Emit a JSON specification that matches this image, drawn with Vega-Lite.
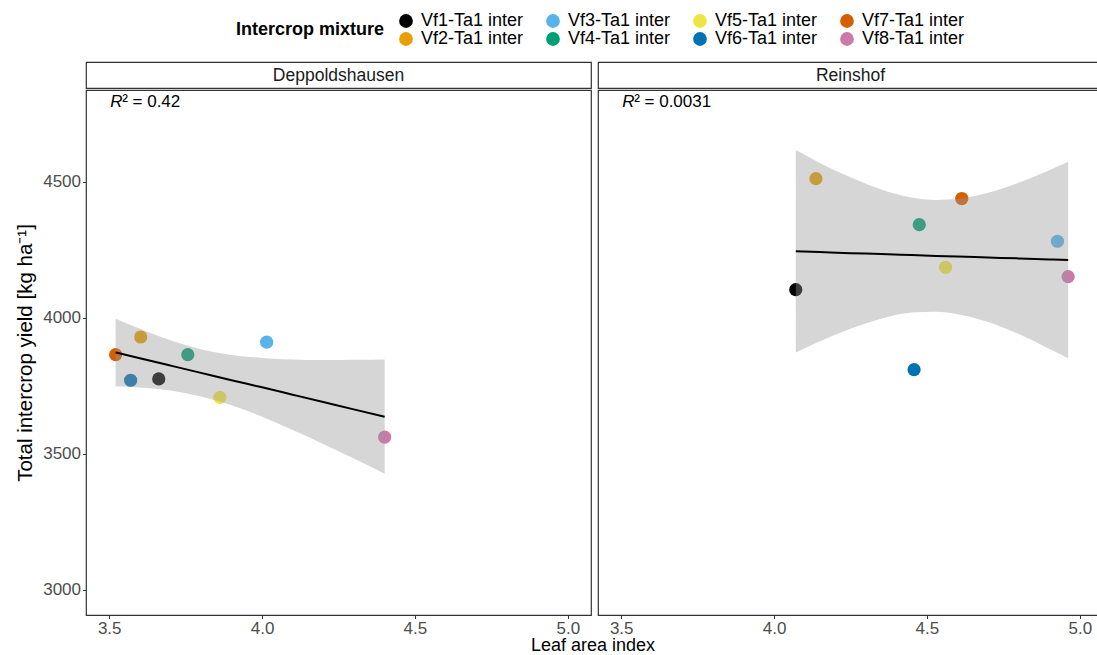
{
  "$schema": "https://vega.github.io/schema/vega-lite/v6.json",
  "padding": {"left": 15, "top": 12, "right": 0, "bottom": 0},
  "spacing": 5,
  "title": {"text": "Leaf area index", "orient": "bottom", "anchor": "middle", "frame": "group", "fontSize": 18, "fontWeight": "normal", "color": "#000000", "font": "Liberation Sans", "offset": 0, "dx": 507},
  "config": {
    "font": "Liberation Sans",
    "view": {"stroke": "#333333", "strokeWidth": 1.2},
    "axis": {"grid": false, "domain": false, "labelFont": "Liberation Sans", "labelFontSize": 17, "labelColor": "#4D4D4D", "tickColor": "#333333", "tickSize": 3.5, "labelPadding": 2, "titleFont": "Liberation Sans", "titleFontSize": 18, "titleFontWeight": "normal", "titleColor": "#000000"},
    "axisX": {"labelPadding": 2}
  },
  "datasets": {
    "points": [
      {"site": "Deppoldshausen", "mixture": "Vf1-Ta1 inter", "lai": 3.662, "yield": 3776},
      {"site": "Deppoldshausen", "mixture": "Vf2-Ta1 inter", "lai": 3.603, "yield": 3930},
      {"site": "Deppoldshausen", "mixture": "Vf3-Ta1 inter", "lai": 4.015, "yield": 3911},
      {"site": "Deppoldshausen", "mixture": "Vf4-Ta1 inter", "lai": 3.757, "yield": 3865},
      {"site": "Deppoldshausen", "mixture": "Vf5-Ta1 inter", "lai": 3.862, "yield": 3708},
      {"site": "Deppoldshausen", "mixture": "Vf6-Ta1 inter", "lai": 3.570, "yield": 3771},
      {"site": "Deppoldshausen", "mixture": "Vf7-Ta1 inter", "lai": 3.521, "yield": 3865},
      {"site": "Deppoldshausen", "mixture": "Vf8-Ta1 inter", "lai": 4.401, "yield": 3562},
      {"site": "Reinshof", "mixture": "Vf1-Ta1 inter", "lai": 4.071, "yield": 4104},
      {"site": "Reinshof", "mixture": "Vf2-Ta1 inter", "lai": 4.137, "yield": 4512},
      {"site": "Reinshof", "mixture": "Vf3-Ta1 inter", "lai": 4.927, "yield": 4282},
      {"site": "Reinshof", "mixture": "Vf4-Ta1 inter", "lai": 4.475, "yield": 4343},
      {"site": "Reinshof", "mixture": "Vf5-Ta1 inter", "lai": 4.561, "yield": 4186},
      {"site": "Reinshof", "mixture": "Vf6-Ta1 inter", "lai": 4.458, "yield": 3810},
      {"site": "Reinshof", "mixture": "Vf7-Ta1 inter", "lai": 4.614, "yield": 4439},
      {"site": "Reinshof", "mixture": "Vf8-Ta1 inter", "lai": 4.962, "yield": 4152}
    ],
    "band": [
      {"site": "Deppoldshausen", "lai": 3.521, "hi": 3997, "lo": 3749, "fit": 3873},
      {"site": "Deppoldshausen", "lai": 3.60, "hi": 3960, "lo": 3744, "fit": 3852},
      {"site": "Deppoldshausen", "lai": 3.70, "hi": 3918, "lo": 3733, "fit": 3825},
      {"site": "Deppoldshausen", "lai": 3.80, "hi": 3885, "lo": 3711, "fit": 3798},
      {"site": "Deppoldshausen", "lai": 3.90, "hi": 3864, "lo": 3679, "fit": 3771},
      {"site": "Deppoldshausen", "lai": 4.00, "hi": 3853, "lo": 3637, "fit": 3745},
      {"site": "Deppoldshausen", "lai": 4.10, "hi": 3847, "lo": 3588, "fit": 3718},
      {"site": "Deppoldshausen", "lai": 4.20, "hi": 3845, "lo": 3537, "fit": 3691},
      {"site": "Deppoldshausen", "lai": 4.30, "hi": 3846, "lo": 3483, "fit": 3664},
      {"site": "Deppoldshausen", "lai": 4.401, "hi": 3847, "lo": 3427, "fit": 3637},
      {"site": "Reinshof", "lai": 4.071, "hi": 4617, "lo": 3873, "fit": 4245},
      {"site": "Reinshof", "lai": 4.15, "hi": 4570, "lo": 3914, "fit": 4242},
      {"site": "Reinshof", "lai": 4.25, "hi": 4517, "lo": 3960, "fit": 4238},
      {"site": "Reinshof", "lai": 4.35, "hi": 4472, "lo": 3997, "fit": 4235},
      {"site": "Reinshof", "lai": 4.45, "hi": 4443, "lo": 4020, "fit": 4231},
      {"site": "Reinshof", "lai": 4.53, "hi": 4434, "lo": 4023, "fit": 4228},
      {"site": "Reinshof", "lai": 4.60, "hi": 4437, "lo": 4014, "fit": 4226},
      {"site": "Reinshof", "lai": 4.70, "hi": 4460, "lo": 3985, "fit": 4222},
      {"site": "Reinshof", "lai": 4.80, "hi": 4497, "lo": 3941, "fit": 4219},
      {"site": "Reinshof", "lai": 4.90, "hi": 4543, "lo": 3887, "fit": 4215},
      {"site": "Reinshof", "lai": 4.962, "hi": 4574, "lo": 3852, "fit": 4213}
    ],
    "r2": [
      {"site": "Deppoldshausen", "lai": 3.503, "yield": 4793, "r": "R", "rest": "² = 0.42"},
      {"site": "Reinshof", "lai": 3.503, "yield": 4793, "r": "R", "rest": "² = 0.0031"}
    ],
    "strips": [
      {"site": "Deppoldshausen"},
      {"site": "Reinshof"}
    ]
  },
  "hconcat": [
    {
      "spacing": 0,
      "vconcat": [
        {
          "width": 505, "height": 26,
          "view": {"stroke": "#333333", "strokeWidth": 1.2, "fill": "#FFFFFF"},
          "data": {"name": "strips"},
          "transform": [{"filter": "datum.site === 'Deppoldshausen'"}],
          "mark": {"type": "text", "fontSize": 17.5, "color": "#1A1A1A", "baseline": "middle", "align": "center", "dy": 1},
          "encoding": {"text": {"field": "site", "type": "nominal"}}
        },
        {
          "width": 505, "height": 525,
          "layer": [
            {
              "data": {"name": "points"},
              "transform": [{"filter": "datum.site === 'Deppoldshausen'"}],
              "mark": {"type": "circle", "size": 175, "opacity": 1},
              "encoding": {
                "x": {"field": "lai", "type": "quantitative", "scale": {"domain": [3.424, 5.076], "nice": false, "zero": false}, "axis": {"values": [3.5, 4, 4.5, 5], "format": ".1f", "title": null}},
                "y": {"field": "yield", "type": "quantitative", "scale": {"domain": [2908, 4838], "nice": false, "zero": false}, "axis": {"values": [3000, 3500, 4000, 4500], "format": "d", "title": "Total intercrop yield [kg ha⁻¹]", "titleFontSize": 20.5, "titlePadding": 7}},
                "color": {"field": "mixture", "type": "nominal", "title": "Intercrop mixture",
                  "scale": {"domain": ["Vf1-Ta1 inter", "Vf3-Ta1 inter", "Vf5-Ta1 inter", "Vf7-Ta1 inter", "Vf2-Ta1 inter", "Vf4-Ta1 inter", "Vf6-Ta1 inter", "Vf8-Ta1 inter"],
                            "range": ["#000000", "#56B4E9", "#F0E442", "#D55E00", "#E69F00", "#009E73", "#0072B2", "#CC79A7"]},
                  "legend": {"orient": "none", "legendX": 150, "legendY": -50, "direction": "horizontal", "columns": 4, "titleOrient": "left", "titleAnchor": "middle", "titleFontWeight": "bold", "titleFontSize": 18, "titleColor": "#000000", "labelFontSize": 18, "labelColor": "#000000", "symbolType": "circle", "symbolSize": 190, "symbolStrokeWidth": 0, "symbolOpacity": 1, "columnPadding": 20, "rowPadding": 0, "labelOffset": 6, "titlePadding": 12}}
              }
            },
            {
              "data": {"name": "band"},
              "transform": [{"filter": "datum.site === 'Deppoldshausen'"}],
              "mark": {"type": "area", "color": "#999999", "opacity": 0.4, "interpolate": "monotone"},
              "encoding": {
                "x": {"field": "lai", "type": "quantitative"},
                "y": {"field": "hi", "type": "quantitative"},
                "y2": {"field": "lo"}
              }
            },
            {
              "data": {"name": "band"},
              "transform": [{"filter": "datum.site === 'Deppoldshausen'"}],
              "mark": {"type": "line", "color": "#000000", "strokeWidth": 2, "interpolate": "monotone"},
              "encoding": {
                "x": {"field": "lai", "type": "quantitative"},
                "y": {"field": "fit", "type": "quantitative"}
              }
            },
            {
              "data": {"name": "r2"},
              "transform": [{"filter": "datum.site === 'Deppoldshausen'"}],
              "mark": {"type": "text", "align": "left", "baseline": "middle", "fontSize": 17, "fontStyle": "italic", "color": "#000000"},
              "encoding": {
                "x": {"field": "lai", "type": "quantitative"},
                "y": {"field": "yield", "type": "quantitative"},
                "text": {"field": "r"}
              }
            },
            {
              "data": {"name": "r2"},
              "transform": [{"filter": "datum.site === 'Deppoldshausen'"}],
              "mark": {"type": "text", "align": "left", "baseline": "middle", "fontSize": 17, "dx": 12, "color": "#000000"},
              "encoding": {
                "x": {"field": "lai", "type": "quantitative"},
                "y": {"field": "yield", "type": "quantitative"},
                "text": {"field": "rest"}
              }
            }
          ]
        }
      ]
    },
    {
      "spacing": 0,
      "vconcat": [
        {
          "width": 505, "height": 26,
          "view": {"stroke": "#333333", "strokeWidth": 1.2, "fill": "#FFFFFF"},
          "data": {"name": "strips"},
          "transform": [{"filter": "datum.site === 'Reinshof'"}],
          "mark": {"type": "text", "fontSize": 17.5, "color": "#1A1A1A", "baseline": "middle", "align": "center", "dy": 1},
          "encoding": {"text": {"field": "site", "type": "nominal"}}
        },
        {
          "width": 505, "height": 525,
          "layer": [
            {
              "data": {"name": "points"},
              "transform": [{"filter": "datum.site === 'Reinshof'"}],
              "mark": {"type": "circle", "size": 175, "opacity": 1},
              "encoding": {
                "x": {"field": "lai", "type": "quantitative", "scale": {"domain": [3.424, 5.076], "nice": false, "zero": false}, "axis": {"values": [3.5, 4, 4.5, 5], "format": ".1f", "title": null}},
                "y": {"field": "yield", "type": "quantitative", "scale": {"domain": [2908, 4838], "nice": false, "zero": false}, "axis": null},
                "color": {"field": "mixture", "type": "nominal", "title": "Intercrop mixture",
                  "scale": {"domain": ["Vf1-Ta1 inter", "Vf3-Ta1 inter", "Vf5-Ta1 inter", "Vf7-Ta1 inter", "Vf2-Ta1 inter", "Vf4-Ta1 inter", "Vf6-Ta1 inter", "Vf8-Ta1 inter"],
                            "range": ["#000000", "#56B4E9", "#F0E442", "#D55E00", "#E69F00", "#009E73", "#0072B2", "#CC79A7"]}}
              }
            },
            {
              "data": {"name": "band"},
              "transform": [{"filter": "datum.site === 'Reinshof'"}],
              "mark": {"type": "area", "color": "#999999", "opacity": 0.4, "interpolate": "monotone"},
              "encoding": {
                "x": {"field": "lai", "type": "quantitative"},
                "y": {"field": "hi", "type": "quantitative"},
                "y2": {"field": "lo"}
              }
            },
            {
              "data": {"name": "band"},
              "transform": [{"filter": "datum.site === 'Reinshof'"}],
              "mark": {"type": "line", "color": "#000000", "strokeWidth": 2, "interpolate": "monotone"},
              "encoding": {
                "x": {"field": "lai", "type": "quantitative"},
                "y": {"field": "fit", "type": "quantitative"}
              }
            },
            {
              "data": {"name": "r2"},
              "transform": [{"filter": "datum.site === 'Reinshof'"}],
              "mark": {"type": "text", "align": "left", "baseline": "middle", "fontSize": 17, "fontStyle": "italic", "color": "#000000"},
              "encoding": {
                "x": {"field": "lai", "type": "quantitative"},
                "y": {"field": "yield", "type": "quantitative"},
                "text": {"field": "r"}
              }
            },
            {
              "data": {"name": "r2"},
              "transform": [{"filter": "datum.site === 'Reinshof'"}],
              "mark": {"type": "text", "align": "left", "baseline": "middle", "fontSize": 17, "dx": 12, "color": "#000000"},
              "encoding": {
                "x": {"field": "lai", "type": "quantitative"},
                "y": {"field": "yield", "type": "quantitative"},
                "text": {"field": "rest"}
              }
            }
          ]
        }
      ]
    }
  ]
}
